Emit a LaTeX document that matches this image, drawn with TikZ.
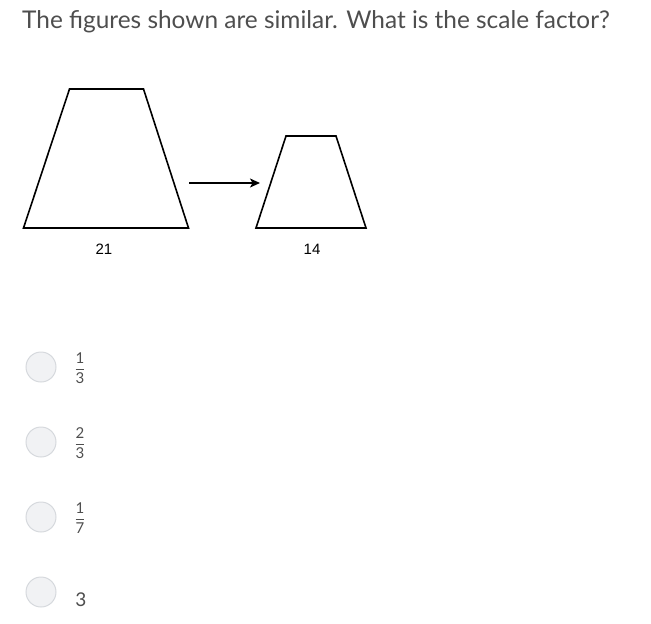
\documentclass[tikz,border=0pt]{standalone}
\usepackage{amsmath}
\usepackage{fontspec}
\setmainfont{Lato}
\newfontfamily\arialfont{Liberation Sans}
\usetikzlibrary{positioning,arrows.meta}
\definecolor{txtgray}{HTML}{4E4E4E}
\definecolor{radiofill}{HTML}{F1F2F4}
\definecolor{radiodrk}{HTML}{D6D9DD}
\newcommand{\optfrac}[2]{\ensuremath{\genfrac{}{}{0.7pt}{0}{\mbox{#1}}{\mbox{#2}}}}
\tikzset{
  radio/.style={circle, draw=radiodrk, fill=radiofill, line width=1pt, minimum size=30pt, inner sep=0pt},
  optlbl/.style={inner sep=0pt, txtgray, font=\fontsize{15}{17}\selectfont},
  sidelbl/.style={inner sep=0pt, font=\arialfont\fontsize{15}{17}\selectfont},
  fig/.style={line width=1.6pt, line join=miter}
}

\begin{document}
\begin{tikzpicture}[x=1pt, y=-1pt]
	\useasboundingbox (0,0) rectangle (651,624);
	\node[anchor=base west, inner sep=0pt, txtgray, font=\fontsize{24.4}{28}\selectfont] (title) at (22,28) {The figures shown are similar. What is the scale factor?};
	
	\coordinate (big1) at (23.5,228);
	\coordinate (big2) at (188.5,228);
	\coordinate (big3) at (143.5,89);
	\coordinate (big4) at (69.5,89);
	\draw[fig] (big1) -- (big2) -- (big3) -- (big4) -- cycle;
	
	\coordinate (small1) at (256,228);
	\coordinate (small2) at (366,228);
	\coordinate (small3) at (336,136);
	\coordinate (small4) at (286,136);
	\draw[fig] (small1) -- (small2) -- (small3) -- (small4) -- cycle;
	
	\coordinate (arrfrom) at (189,183);
	\coordinate (arrto) at (260,183);
	\draw[line width=1.4pt, -{Stealth[length=10pt, width=9pt, inset=2.5pt]}] (arrfrom) -- (arrto);
	
	\node[sidelbl] (b21) at (104,249) {21};
	\node[sidelbl] (b14) at (312,249) {14};
	
	\node[radio] (r1) at (41,367) {};
	\node[radio] (r2) at (41,442) {};
	\node[radio] (r3) at (41,517) {};
	\node[radio] (r4) at (41,592) {};
	
	\node[optlbl] (o1) at (80,368) {\optfrac{1}{3}};
	\node[optlbl] (o2) at (80,443) {\optfrac{2}{3}};
	\node[optlbl] (o3) at (80,518) {\optfrac{1}{7}};
	\node[optlbl, font=\fontsize{19}{22}\selectfont] (o4) at (81,600) {3};
\end{tikzpicture}
\end{document}
